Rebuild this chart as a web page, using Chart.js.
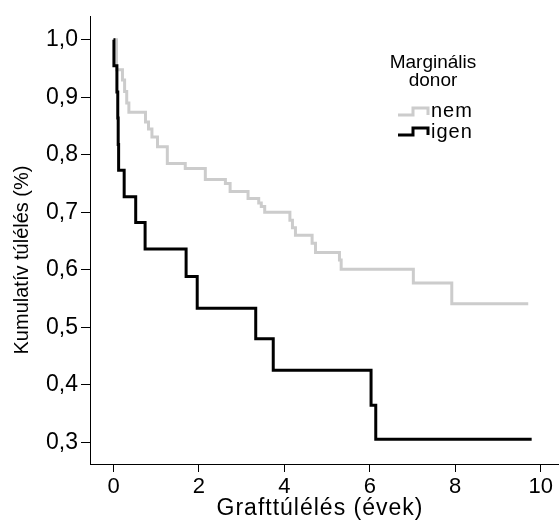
<!DOCTYPE html>
<html>
<head>
<meta charset="utf-8">
<script src="https://cdn.jsdelivr.net/npm/chart.js@4.4.0/dist/chart.umd.min.js"></script>
<style>
  html, body { margin: 0; padding: 0; background: #fff; }
  #wrap { width: 559px; height: 522px; }
</style>
</head>
<body>
<div id="wrap"><canvas id="kmChart" width="559" height="522"></canvas></div>
<script>
// Kaplan-Meier steps (time in years, survival proportion)
const nemTime = [0, 0.07, 0.21, 0.26, 0.31, 0.36, 0.75, 0.82, 0.9, 1.03, 1.26, 1.68, 2.15, 2.62, 2.73, 3.15, 3.4, 3.46, 3.54, 4.13, 4.19, 4.26, 4.65, 4.73, 5.29, 5.33, 7.02, 7.92, 9.71];
const nemSurv = [1.0, 0.948, 0.93, 0.91, 0.89, 0.874, 0.857, 0.845, 0.831, 0.814, 0.785, 0.776, 0.757, 0.75, 0.736, 0.724, 0.716, 0.71, 0.70, 0.686, 0.673, 0.66, 0.646, 0.63, 0.617, 0.601, 0.577, 0.541, 0.541];

const igenTime = [0, 0.01, 0.08, 0.1, 0.11, 0.12, 0.25, 0.52, 0.74, 1.7, 1.96, 3.33, 3.74, 6.03, 6.14, 9.79];
const igenSurv = [1.0, 0.955, 0.909, 0.864, 0.818, 0.773, 0.727, 0.682, 0.636, 0.588, 0.533, 0.48, 0.425, 0.364, 0.305, 0.305];

const seriesLabels = ["nem", "igen"];
const legendTitle = ["Marginális", "donor"];
const xTicks = [0, 2, 4, 6, 8, 10];
const yTicks = [0.3, 0.4, 0.5, 0.6, 0.7, 0.8, 0.9, 1.0];
const xTitle = "Grafttúlélés (évek)";
const yTitle = "Kumulatív túlélés (%)";

const FONT = '"Liberation Sans", Arial, sans-serif';
const toPoints = (ts, ss) => ts.map((t, i) => ({ x: t, y: ss[i] }));

// axis titles and the legend box inside the plot
const kmText = {
  id: "kmText",
  afterDraw(chart) {
    const ctx = chart.ctx;
    ctx.save();
    ctx.fillStyle = "#000";
    ctx.textBaseline = "alphabetic";

    ctx.font = "23px " + FONT;
    ctx.letterSpacing = "1px";
    ctx.textAlign = "center";
    ctx.fillText(xTitle, 320, 515);

    ctx.save();
    ctx.letterSpacing = "0px";
    ctx.translate(28, 260);
    ctx.rotate(-Math.PI / 2);
    ctx.font = "20px " + FONT;
    ctx.fillText(yTitle, 0, 0);
    ctx.restore();

    ctx.letterSpacing = "0px";
    ctx.font = "19px " + FONT;
    ctx.fillText(legendTitle[0], 433, 68);
    ctx.fillText(legendTitle[1], 433, 86);

    const rows = [{ low: 115, high: 108, base: 117 }, { low: 135, high: 128, base: 138 }];
    ctx.font = "20px " + FONT;
    ctx.letterSpacing = "1px";
    chart.data.datasets.forEach((ds, i) => {
      const r = rows[i];
      ctx.strokeStyle = ds.borderColor;
      ctx.lineWidth = 3;
      ctx.lineCap = "butt";
      ctx.lineJoin = "miter";
      ctx.beginPath();
      ctx.moveTo(398, r.low);
      ctx.lineTo(413, r.low);
      ctx.lineTo(413, r.high);
      ctx.lineTo(428, r.high);
      ctx.lineTo(428, r.low);
      ctx.stroke();
      ctx.textAlign = "left";
      ctx.fillText(ds.label, 431, r.base);
    });
    ctx.restore();
  }
};

new Chart(document.getElementById("kmChart"), {
  type: "line",
  data: {
    datasets: [
      {
        label: seriesLabels[0],
        data: toPoints(nemTime, nemSurv),
        borderColor: "#cccccc",
        order: 2
      },
      {
        label: seriesLabels[1],
        data: toPoints(igenTime, igenSurv),
        borderColor: "#000000",
        order: 1
      }
    ]
  },
  options: {
    responsive: false,
    animation: false,
    events: [],
    elements: {
      line: { stepped: true, borderWidth: 3, tension: 0, fill: false, borderCapStyle: "butt", borderJoinStyle: "miter" },
      point: { radius: 0 }
    },
    layout: { padding: { top: 12, right: 0, left: 0, bottom: 0 } },
    plugins: { legend: { display: false }, tooltip: { enabled: false } },
    scales: {
      x: {
        type: "linear",
        min: -0.55,
        max: 10.43,
        afterBuildTicks: s => { s.ticks = xTicks.map(v => ({ value: v })); },
        afterFit: s => { s.height = 58; },
        ticks: { color: "#000", font: { family: FONT, size: 22 }, padding: 2, maxRotation: 0, autoSkip: false },
        grid: { drawOnChartArea: false, color: "#000", tickLength: 8 },
        border: { color: "#000", width: 1 }
      },
      y: {
        type: "linear",
        min: 0.262,
        max: 1.04,
        afterBuildTicks: s => { s.ticks = yTicks.map(v => ({ value: v })); },
        afterFit: s => { s.width = 90; },
        ticks: {
          color: "#000",
          font: { family: FONT, size: 23 },
          padding: 3,
          callback: v => v.toFixed(1).replace(".", ",")
        },
        grid: { drawOnChartArea: false, color: "#000", tickLength: 9 },
        border: { color: "#000", width: 1 }
      }
    }
  },
  plugins: [kmText]
});
</script>
</body>
</html>
